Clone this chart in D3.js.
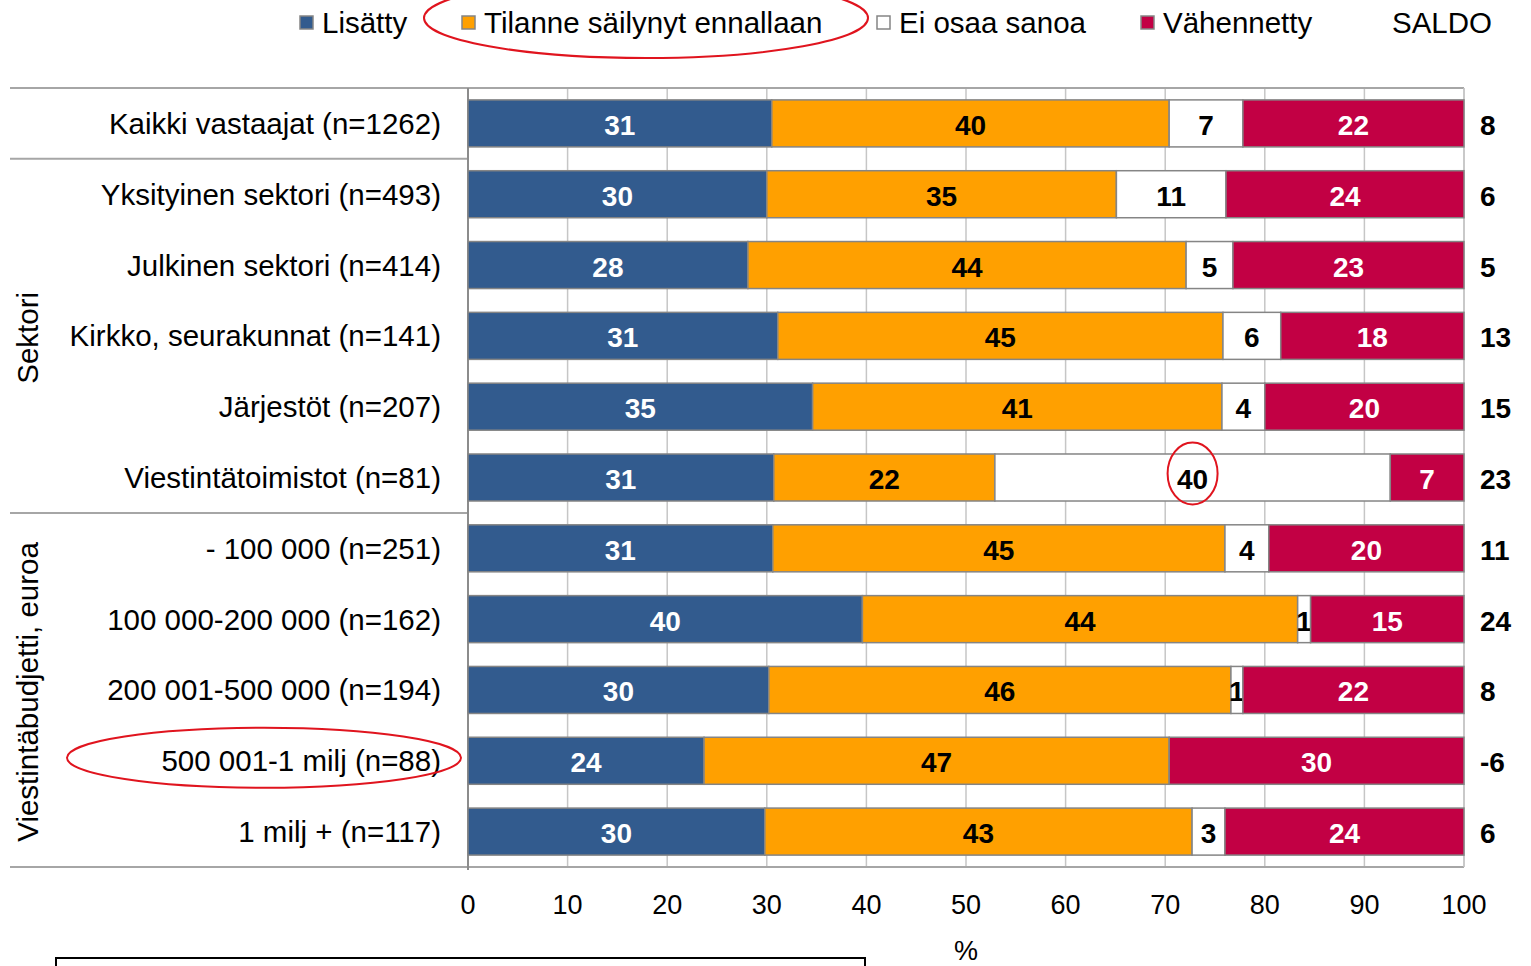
<!DOCTYPE html>
<html>
<head>
<meta charset="utf-8">
<title>Viestintäbudjetti</title>
<style>
	body { margin: 0; background: #fff; }
	svg { font-family: "Liberation Sans", Arial, sans-serif; }
</style>
</head>
<body>
<script src="https://cdn.jsdelivr.net/npm/d3@7"></script>
<script>
	// 数据
	const categories = [
		"Kaikki vastaajat (n=1262)",
		"Yksityinen sektori (n=493)",
		"Julkinen sektori (n=414)",
		"Kirkko, seurakunnat (n=141)",
		"Järjestöt (n=207)",
		"Viestintätoimistot (n=81)",
		"- 100 000 (n=251)",
		"100 000-200 000 (n=162)",
		"200 001-500 000 (n=194)",
		"500 001-1 milj (n=88)",
		"1 milj + (n=117)"
	]
	const lisatty    = [30.5, 30.0, 28.1, 31.1, 34.6, 30.7, 30.6, 39.6, 30.2, 23.7, 29.8]
	const ennallaan  = [39.9, 35.1, 44.0, 44.7, 41.1, 22.2, 45.4, 43.7, 46.4, 46.7, 42.9]
	const eiOsaa     = [7.4, 11.0, 4.7, 5.8, 4.3, 39.7, 4.4, 1.3, 1.2, 0, 3.3]
	const vahennetty = [22.2, 23.9, 23.2, 18.4, 20.0, 7.4, 19.6, 15.4, 22.2, 29.6, 24.0]
	const saldo      = [8, 6, 5, 13, 15, 23, 11, 24, 8, -6, 6]
	const xTicks = [0, 10, 20, 30, 40, 50, 60, 70, 80, 90, 100]

	const series = [
		{ name: "Lisätty", values: lisatty, color: "#325b8e", text: "#fff" },
		{ name: "Tilanne säilynyt ennallaan", values: ennallaan, color: "#ffa000", text: "#000" },
		{ name: "Ei osaa sanoa", values: eiOsaa, color: "#fff", text: "#000" },
		{ name: "Vähennetty", values: vahennetty, color: "#c20044", text: "#fff" }
	]

	const width = 1531, height = 966
	const pLeft = 468, pRight = 1464, pTop = 88, pBottom = 867

	const svg = d3.select("body").append("svg")
		.attr("width", width).attr("height", height)

	// 比例尺
	const x = d3.scaleLinear().domain([0, 100]).range([pLeft, pRight])
	const y = d3.scaleBand().domain(categories).range([pTop, pBottom])
		.paddingInner(0.336).paddingOuter(0.168)

	// 网格线
	svg.append("g").selectAll("line")
		.data(xTicks).enter().append("line")
		.attr("x1", d => x(d)).attr("x2", d => x(d))
		.attr("y1", pTop).attr("y2", pBottom)
		.attr("stroke", "#c6c6c6").attr("stroke-width", 1.5)

	// 左侧分隔线
	const sepRows = [0, 1, 6]
	svg.append("g").selectAll("line")
		.data(sepRows).enter().append("line")
		.attr("x1", 10).attr("x2", d => d === 0 ? pRight : pLeft)
		.attr("y1", d => y(categories[d]) - y.step() * y.paddingInner() / 2)
		.attr("y2", d => y(categories[d]) - y.step() * y.paddingInner() / 2)
		.attr("stroke", "#a6a6a6").attr("stroke-width", 2)
	svg.append("line")
		.attr("x1", 10).attr("x2", pRight).attr("y1", pBottom).attr("y2", pBottom)
		.attr("stroke", "#a6a6a6").attr("stroke-width", 2)
	svg.append("line")
		.attr("x1", pLeft).attr("x2", pLeft).attr("y1", pTop).attr("y2", pBottom + 3)
		.attr("stroke", "#8c8c8c").attr("stroke-width", 2)
	svg.append("line")
		.attr("x1", pRight).attr("x2", pRight).attr("y1", pTop).attr("y2", pBottom)
		.attr("stroke", "#c6c6c6").attr("stroke-width", 1.5)

	// 堆叠条形
	categories.forEach((cat, i) => {
		let acc = 0
		const g = svg.append("g")
		series.forEach(s => {
			const v = s.values[i]
			const x0 = acc
			acc += v
			if (v <= 0) return
			g.append("rect")
				.attr("x", x(x0)).attr("y", y(cat))
				.attr("width", x(x0 + v) - x(x0)).attr("height", y.bandwidth())
				.attr("fill", s.color)
				.attr("stroke", "#858585").attr("stroke-width", 1.5)
			g.append("text")
				.attr("x", (x(x0) + x(x0 + v)) / 2)
				.attr("y", y(cat) + y.bandwidth() / 2 + 2)
				.attr("text-anchor", "middle")
				.attr("dominant-baseline", "central")
				.attr("font-size", 28).attr("font-weight", "bold")
				.attr("fill", s.text)
				.text(Math.round(v))
		})
		// SALDO
		svg.append("text")
			.attr("x", pRight + 16)
			.attr("y", y(cat) + y.bandwidth() / 2 + 2)
			.attr("dominant-baseline", "central")
			.attr("font-size", 28).attr("font-weight", "bold")
			.text(saldo[i])
		// 类别标签
		svg.append("text")
			.attr("x", 441)
			.attr("y", y(cat) + y.bandwidth() / 2)
			.attr("text-anchor", "end")
			.attr("dominant-baseline", "central")
			.attr("font-size", 29.5)
			.text(cat)
	})

	// 分组标题
	const groups = [
		{ name: "Sektori", from: 1, to: 5 },
		{ name: "Viestintäbudjetti, euroa", from: 6, to: 10 }
	]
	groups.forEach(gr => {
		const cy = (y(categories[gr.from]) + y(categories[gr.to]) + y.bandwidth()) / 2
		svg.append("text")
			.attr("transform", `translate(27, ${cy + 2}) rotate(-90)`)
			.attr("text-anchor", "middle")
			.attr("dominant-baseline", "central")
			.attr("font-size", 29.5)
			.text(gr.name)
	})

	// 横坐标
	svg.append("g").selectAll("text")
		.data(xTicks).enter().append("text")
		.attr("x", d => x(d)).attr("y", 905)
		.attr("text-anchor", "middle")
		.attr("dominant-baseline", "central")
		.attr("font-size", 27)
		.text(d => d)
	svg.append("text")
		.attr("x", x(50)).attr("y", 951)
		.attr("text-anchor", "middle")
		.attr("dominant-baseline", "central")
		.attr("font-size", 27)
		.text("%")

	// 图例
	const legendX = [300, 462, 877, 1141]
	series.forEach((s, i) => {
		svg.append("rect")
			.attr("x", legendX[i]).attr("y", 16).attr("width", 13).attr("height", 13)
			.attr("fill", s.color).attr("stroke", "#858585").attr("stroke-width", 1.5)
		svg.append("text")
			.attr("x", legendX[i] + 22).attr("y", 22)
			.attr("dominant-baseline", "central")
			.attr("font-size", 29.5)
			.text(s.name)
	})
	svg.append("text")
		.attr("x", 1392).attr("y", 22)
		.attr("dominant-baseline", "central")
		.attr("font-size", 29.5)
		.text("SALDO")

	// 下方框
	svg.append("rect")
		.attr("x", 56).attr("y", 958).attr("width", 809).attr("height", 30)
		.attr("fill", "none").attr("stroke", "#000").attr("stroke-width", 2)

	// 红色标注
	const red = "#e0141e"
	svg.append("ellipse")
		.attr("cx", 646).attr("cy", 18).attr("rx", 222).attr("ry", 40)
		.attr("fill", "none").attr("stroke", red).attr("stroke-width", 2)
	const vi = 5
	const x40 = lisatty[vi] + ennallaan[vi] + eiOsaa[vi] / 2
	svg.append("ellipse")
		.attr("cx", x(x40)).attr("cy", y(categories[vi]) + y.bandwidth() / 2 - 4)
		.attr("rx", 25).attr("ry", 31)
		.attr("fill", "none").attr("stroke", red).attr("stroke-width", 2)
	svg.append("ellipse")
		.attr("cx", 264).attr("cy", y(categories[9]) + y.bandwidth() / 2 - 3)
		.attr("rx", 197).attr("ry", 30)
		.attr("fill", "none").attr("stroke", red).attr("stroke-width", 2)
</script>
</body>
</html>
